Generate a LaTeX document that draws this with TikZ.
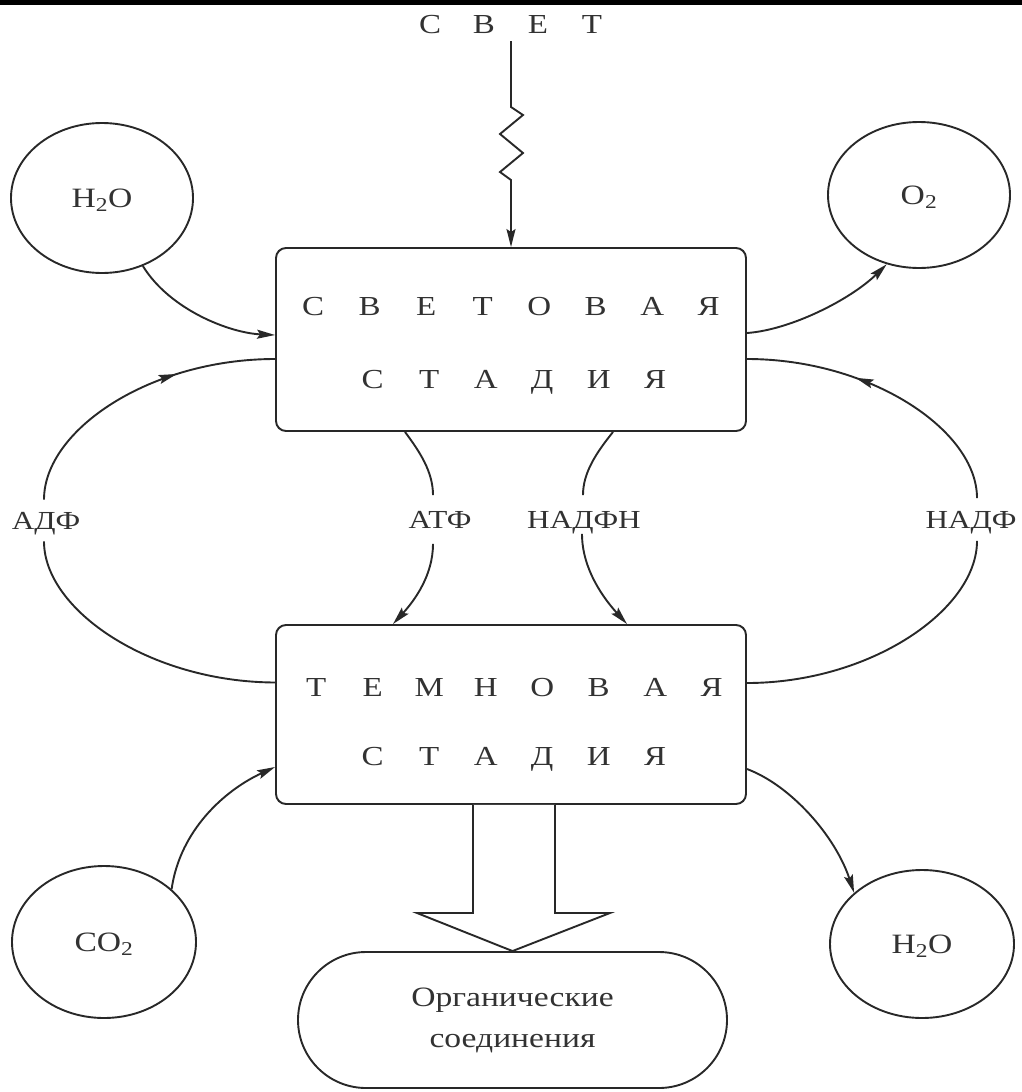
\documentclass[tikz,border=0pt]{standalone}
\usepackage{fontspec}
\setmainfont[FakeStretch=1.2]{Liberation Serif}
\usetikzlibrary{arrows.meta,shapes.geometric,shapes.misc,decorations.markings}
\definecolor{ink}{RGB}{40,40,40}
\definecolor{txt}{RGB}{50,50,50}
\newcommand{\ls}[1]{\makebox[56.5pt]{#1}}
\newcommand{\lt}[1]{\makebox[54pt]{#1}}
\begin{document}
\begin{tikzpicture}[x=1pt,y=-1pt,line width=1.9pt,color=ink,text=txt,line join=miter,
  rowtxt/.style={inner sep=0pt,anchor=base,font=\fontsize{27.5}{30}\selectfont,text=txt},
  glab/.style={inner sep=0pt,font=\fontsize{26}{30}\selectfont,text=txt,text height=17pt,text depth=0pt},
  stagebox/.style={draw=ink,rounded corners=10pt,minimum width=470pt,inner sep=0pt},
  mol/.style={ellipse,draw=ink,inner sep=0pt,font=\fontsize{28}{32}\selectfont,text=txt,text height=19pt,text depth=0pt},
  tip/.style={-{Stealth[length=18pt,width=9pt,inset=3pt]}},
  midtip/.style={postaction={decorate},decoration={markings,mark=at position #1 with {\arrow{Stealth[length=18pt,width=9pt,inset=3pt]}}}}]
\useasboundingbox (0,0) rectangle (1022,1092);
\fill[black] (0,0) rectangle (1022,4.5);

% stages
\node[stagebox,minimum height=183pt] (light) at (511,339.5) {};
\node[stagebox,minimum height=179pt] (dark) at (511,714.5) {};
\node[rowtxt] (l1) at (511,315) {\ls{С}\ls{В}\ls{Е}\ls{Т}\ls{О}\ls{В}\ls{А}\ls{Я}};
\node[rowtxt] (l2) at (514,388) {\ls{С}\ls{Т}\ls{А}\ls{Д}\ls{И}\ls{Я}};
\node[rowtxt] (d1) at (514,696) {\ls{Т}\ls{Е}\ls{М}\ls{Н}\ls{О}\ls{В}\ls{А}\ls{Я}};
\node[rowtxt] (d2) at (514,765) {\ls{С}\ls{Т}\ls{А}\ls{Д}\ls{И}\ls{Я}};

% light source
\node[rowtxt] (svet) at (511,33) {\lt{С}\lt{В}\lt{Е}\lt{Т}};
\draw[tip] ([yshift=-7pt]svet.south) -- (511,107) -- (523,115) -- (500,134) -- (523,153) -- (500,172) -- (511,180) -- (light.north);

% molecules
\node[mol,minimum width=182pt,minimum height=150pt] (h2oa) at (102,198) {H\textsubscript{2}O};
\node[mol,minimum width=182pt,minimum height=146pt] (o2) at (919,195) {O\textsubscript{2}};
\node[mol,minimum width=184pt,minimum height=152pt] (co2) at (104,942) {CO\textsubscript{2}};
\node[mol,minimum width=184pt,minimum height=148pt] (h2ob) at (922,944) {H\textsubscript{2}O};

\draw[tip] (h2oa.301) .. controls (170,310) and (230,333) .. ([yshift=4.5pt]light.west);
\draw[tip] ([yshift=6.5pt]light.east) .. controls (790,330) and (850,300) .. (o2.245);
\draw[tip] (co2.38.5) .. controls (180,830) and (225,790) .. ([yshift=-52.5pt]dark.west);
\draw[tip] ([yshift=-54.5pt]dark.east) .. controls (790,785) and (835,835) .. (h2ob.143.5);

% side cycles
\node[glab,minimum height=40pt] (adf) at (46,520.5) {АДФ};
\node[glab,minimum height=41pt] (nadf) at (971,519.5) {НАДФ};
\draw ([yshift=32pt]dark.west) .. controls (150,682) and (44,610) .. ([xshift=-2pt]adf.south);
\draw[midtip=0.66] ([xshift=-2pt]adf.north) .. controls (44,430) and (150,359) .. ([yshift=-19.5pt]light.west);
\draw ([yshift=31.5pt]dark.east) .. controls (870,683) and (977,610) .. ([xshift=6pt]nadf.south);
\draw[midtip=0.62] ([xshift=6pt]nadf.north) .. controls (977,430) and (870,359) .. ([yshift=-19.5pt]light.east);

% middle transfers
\node[glab,minimum height=47pt] (atf) at (440,519.5) {АТФ};
\node[glab,minimum height=47pt] (nadfh) at (584,519.5) {НАДФН};
\draw ([xshift=-106pt]light.south) .. controls (420,452) and (433,472) .. ([xshift=-7pt]atf.north);
\draw[tip] ([xshift=-7pt]atf.south) .. controls (433,575) and (415,600) .. ([xshift=-118pt]dark.north);
\draw ([xshift=102pt]light.south) .. controls (597,452) and (583,472) .. ([xshift=-1pt]nadfh.north);
\draw[tip] ([xshift=-2pt,yshift=10pt]nadfh.south) .. controls (582,570) and (605,600) .. ([xshift=116pt]dark.north);

% product
\node[rounded rectangle,draw=ink,minimum width=429pt,minimum height=136pt,inner sep=0pt,
  align=center,font=\fontsize{28}{41}\selectfont,text=txt] (org) at (512.5,1020) {Органические\\соединения};
\draw[fill=white] ([xshift=-38pt]dark.south) -- (473,913) -- (417,913) -- (org.north) -- (610,913) -- (555,913) -- ([xshift=44pt]dark.south);
\end{tikzpicture}
\end{document}
